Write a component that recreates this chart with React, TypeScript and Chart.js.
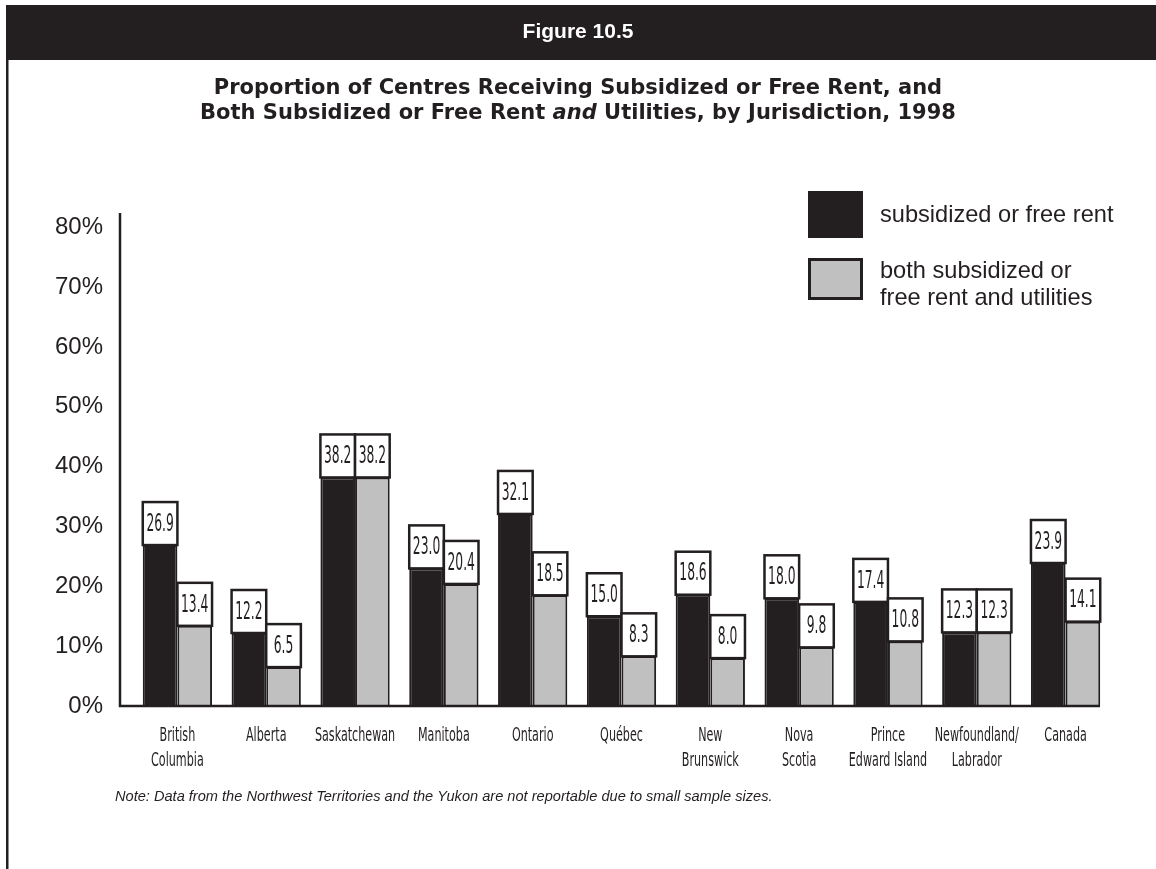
import { useEffect, useRef } from "react";
import { Chart, registerables } from "chart.js";

Chart.register(...registerables);

// Jurisdictions along the x axis (multi-line labels)
const jurisdictions: string[][] = [
  ["British", "Columbia"],
  ["Alberta"],
  ["Saskatchewan"],
  ["Manitoba"],
  ["Ontario"],
  ["Québec"],
  ["New", "Brunswick"],
  ["Nova", "Scotia"],
  ["Prince", "Edward Island"],
  ["Newfoundland/", "Labrador"],
  ["Canada"],
];

// Percent of centres receiving subsidized or free rent
const rentValues = [26.9, 12.2, 38.2, 23.0, 32.1, 15.0, 18.6, 18.0, 17.4, 12.3, 23.9];

// Percent of centres receiving both subsidized or free rent and utilities
const rentUtilitiesValues = [13.4, 6.5, 38.2, 20.4, 18.5, 8.3, 8.0, 9.8, 10.8, 12.3, 14.1];

const yTickValues = [0, 10, 20, 30, 40, 50, 60, 70, 80];

const rentLabel = ["subsidized or free rent"];
const rentUtilitiesLabel = ["both subsidized or", "free rent and utilities"];

const figureNumber = "Figure 10.5";
const titleLine1 = "Proportion of Centres Receiving Subsidized or Free Rent, and";
const titleLine2 = ["Both Subsidized or Free Rent ", "and", " Utilities, by Jurisdiction, 1998"];
const note =
  "Note: Data from the Northwest Territories and the Yukon are not reportable due to small sample sizes.";

const INK = "#231f20";
const GREY = "#c0c0c0";
const SANS = '"Liberation Sans", Arial, sans-serif';
const HEAVY = '"DejaVu Sans", "Liberation Sans", sans-serif';
const NARROW = '"Liberation Sans Narrow", "DejaVu Sans Condensed", sans-serif';

function drawText(
  ctx: CanvasRenderingContext2D,
  text: string,
  x: number,
  y: number,
  font: string,
  align: CanvasTextAlign,
  color: string,
  sx = 1
) {
  ctx.save();
  ctx.font = font;
  ctx.textAlign = align;
  ctx.textBaseline = "middle";
  ctx.fillStyle = color;
  ctx.translate(x, y);
  ctx.scale(sx, 1);
  ctx.fillText(text, 0, 0);
  ctx.restore();
}

const framePlugin = {
  id: "figureFrame",
  beforeDraw(chart: any) {
    const { ctx, width, height } = chart;
    ctx.save();
    ctx.fillStyle = "#ffffff";
    ctx.fillRect(0, 0, width, height);
    // header band
    ctx.fillStyle = INK;
    ctx.fillRect(6, 5, width - 6, 55);
    // left rule
    ctx.fillRect(6, 60, 2.5, height - 60);
    ctx.restore();

    drawText(ctx, figureNumber, width / 2, 32, `bold 21px ${SANS}`, "center", "#ffffff");

    // title
    const titleFont = `bold 21px ${HEAVY}`;
    const titleItalic = `italic bold 21px ${HEAVY}`;
    drawText(ctx, titleLine1, width / 2, 89, titleFont, "center", INK);
    ctx.save();
    ctx.font = titleFont;
    const w0 = ctx.measureText(titleLine2[0]).width;
    const w2 = ctx.measureText(titleLine2[2]).width;
    ctx.font = titleItalic;
    const w1 = ctx.measureText(titleLine2[1]).width;
    ctx.restore();
    let tx = width / 2 - (w0 + w1 + w2) / 2;
    drawText(ctx, titleLine2[0], tx, 114, titleFont, "left", INK);
    tx += w0;
    drawText(ctx, titleLine2[1], tx, 114, titleItalic, "left", INK);
    tx += w1;
    drawText(ctx, titleLine2[2], tx, 114, titleFont, "left", INK);

    // legend
    ctx.save();
    ctx.fillStyle = INK;
    ctx.fillRect(808, 191, 55, 47);
    ctx.fillStyle = GREY;
    ctx.fillRect(808, 258, 55, 42);
    ctx.strokeStyle = INK;
    ctx.lineWidth = 3;
    ctx.strokeRect(809.5, 259.5, 52, 39);
    ctx.restore();
    const legendFont = `23.6px ${SANS}`;
    drawText(ctx, rentLabel[0], 880, 215, legendFont, "left", INK);
    drawText(ctx, rentUtilitiesLabel[0], 880, 271, legendFont, "left", INK);
    drawText(ctx, rentUtilitiesLabel[1], 880, 298, legendFont, "left", INK);

    drawText(ctx, note, 115, 797, `italic 14.6px ${SANS}`, "left", INK);
  },
  afterDatasetsDraw(chart: any) {
    const { ctx, chartArea } = chart;
    const yScale = chart.scales.y;
    const xScale = chart.scales.x;
    const base = yScale.getPixelForValue(0);

    // value boxes sitting on top of each bar
    chart.data.datasets.forEach((ds: any, di: number) => {
      const meta = chart.getDatasetMeta(di);
      meta.data.forEach((bar: any, i: number) => {
        const { x, y, width } = bar.getProps(["x", "y", "width"], true);
        const boxH = 43;
        ctx.save();
        ctx.fillStyle = "#ffffff";
        ctx.fillRect(x - width / 2, y - boxH, width, boxH);
        ctx.strokeStyle = INK;
        ctx.lineWidth = 2.5;
        ctx.strokeRect(x - width / 2, y - boxH, width, boxH);
        ctx.restore();
        drawText(ctx, (ds.data[i] as number).toFixed(1), x, y - boxH / 2 + 1, `24px ${NARROW}`, "center", INK, 0.57);
      });
    });

    // axis lines
    const axisLeft = chartArea.left - 13;
    ctx.save();
    ctx.strokeStyle = INK;
    ctx.lineWidth = 2.5;
    ctx.beginPath();
    ctx.moveTo(axisLeft, chartArea.top);
    ctx.lineTo(axisLeft, base);
    ctx.lineTo(chartArea.right - 10, base);
    ctx.stroke();
    ctx.restore();

    // jurisdiction labels
    jurisdictions.forEach((lines, i) => {
      const cx = xScale.getPixelForValue(i);
      lines.forEach((line, k) => {
        drawText(ctx, line, cx, base + 30 + k * 25, `20px ${NARROW}`, "center", INK, 0.62);
      });
    });
  },
};

export default function App() {
  const canvasRef = useRef<HTMLCanvasElement | null>(null);

  useEffect(() => {
    const canvas = canvasRef.current;
    if (!canvas) return;
    const chart = new Chart(canvas, {
      type: "bar",
      data: {
        labels: jurisdictions.map((l) => l.join(" ")),
        datasets: [
          {
            label: rentLabel.join(" "),
            data: rentValues,
            backgroundColor: INK,
            borderColor: INK,
            borderWidth: 2,
            categoryPercentage: 0.78,
            barPercentage: 1.0,
          },
          {
            label: rentUtilitiesLabel.join(" "),
            data: rentUtilitiesValues,
            backgroundColor: GREY,
            borderColor: INK,
            borderWidth: 2,
            categoryPercentage: 0.78,
            barPercentage: 1.0,
          },
        ],
      },
      options: {
        animation: false,
        responsive: false,
        maintainAspectRatio: false,
        devicePixelRatio: 1,
        layout: { padding: { top: 213, right: 46, bottom: 0, left: 0 } },
        plugins: {
          legend: { display: false },
          title: { display: false },
          tooltip: { enabled: false },
        },
        scales: {
          x: {
            grid: { display: false },
            border: { display: false },
            ticks: { display: false },
            afterFit: (s: any) => {
              s.height = 163;
            },
          },
          y: {
            min: 0,
            max: 82.4,
            grid: { display: false, drawTicks: false },
            border: { display: false },
            ticks: {
              stepSize: 10,
              padding: 30,
              color: INK,
              font: { family: SANS, size: 24 },
              callback: (v: any) => `${v}%`,
            },
            afterBuildTicks: (s: any) => {
              s.ticks = yTickValues.map((v) => ({ value: v }));
            },
            afterFit: (s: any) => {
              s.width = 133;
            },
          },
        },
      },
      plugins: [framePlugin],
    });
    return () => chart.destroy();
  }, []);

  return (
    <div style={{ position: "fixed", left: 0, top: 0, width: 1156, height: 869 }}>
      <canvas ref={canvasRef} width={1156} height={869} />
    </div>
  );
}
